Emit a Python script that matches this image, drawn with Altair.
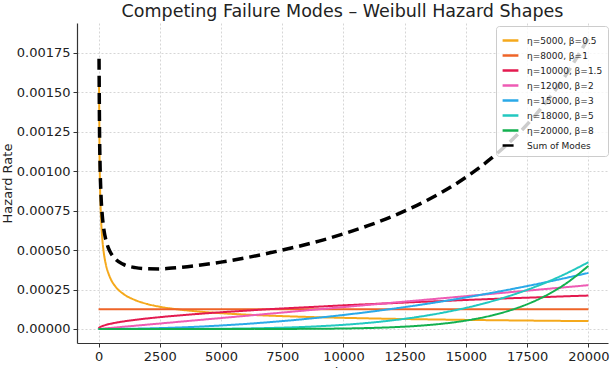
import altair as alt
import pandas as pd

# Time grid (hours) shared by every curve
T = [0, 20, 40, 60, 100, 150, 200, 300, 400, 500, 700, 1000, 1500, 2000, 2500,
     3000, 4000, 5000, 6000, 7000, 8000, 9000, 10000, 11000, 12000, 13000,
     14000, 15000, 16000, 17000, 18000, 19000, 20000]

# Hazard rate of each failure mode (None = undefined at t=0)
h_5000_05 = [None, 0.001581, 0.001118, 0.000913, 0.000707, 0.000577, 0.000500,
             0.000408, 0.000354, 0.000316, 0.000267, 0.000224, 0.000183,
             0.000158, 0.000141, 0.000129, 0.000112, 0.000100, 0.0000913,
             0.0000845, 0.0000791, 0.0000745, 0.0000707, 0.0000674, 0.0000645,
             0.0000620, 0.0000598, 0.0000577, 0.0000559, 0.0000542, 0.0000527,
             0.0000513, 0.0000500]
h_8000_1 = [0.000125] * len(T)
h_10000_15 = [0.0, 0.0000067, 0.0000095, 0.0000116, 0.0000150, 0.0000184,
              0.0000212, 0.0000260, 0.0000300, 0.0000335, 0.0000397, 0.0000474,
              0.0000581, 0.0000671, 0.0000750, 0.0000822, 0.0000949, 0.000106,
              0.000116, 0.000126, 0.000134, 0.000142, 0.000150, 0.000157,
              0.000164, 0.000171, 0.000177, 0.000184, 0.000190, 0.000196,
              0.000201, 0.000207, 0.000212]
h_12000_2 = [0.0, 0.0000003, 0.0000006, 0.0000008, 0.0000014, 0.0000021,
             0.0000028, 0.0000042, 0.0000056, 0.0000069, 0.0000097, 0.0000139,
             0.0000208, 0.0000278, 0.0000347, 0.0000417, 0.0000556, 0.0000694,
             0.0000833, 0.0000972, 0.0001111, 0.0001250, 0.0001389, 0.0001528,
             0.0001667, 0.0001806, 0.0001944, 0.0002083, 0.0002222, 0.0002361,
             0.0002500, 0.0002639, 0.0002778]
h_15000_3 = [0.0, 0.0, 0.0, 0.0, 0.0, 0.0, 0.0, 0.0000001, 0.0000001, 0.0000002,
             0.0000004, 0.0000009, 0.0000020, 0.0000036, 0.0000056, 0.0000080,
             0.0000142, 0.0000222, 0.0000320, 0.0000436, 0.0000569, 0.0000720,
             0.0000889, 0.0001076, 0.0001280, 0.0001502, 0.0001742, 0.0002000,
             0.0002276, 0.0002569, 0.0002880, 0.0003209, 0.0003556]
h_18000_5 = [0.0, 0.0, 0.0, 0.0, 0.0, 0.0, 0.0, 0.0, 0.0, 0.0, 0.0, 0.0,
             0.0, 0.0, 0.0000001, 0.0000002, 0.0000007, 0.0000017, 0.0000034,
             0.0000064, 0.0000108, 0.0000174, 0.0000265, 0.0000387, 0.0000549,
             0.0000756, 0.0001017, 0.0001340, 0.0001734, 0.0002210, 0.0002778,
             0.0003449, 0.0004234]
h_20000_8 = [0.0, 0.0, 0.0, 0.0, 0.0, 0.0, 0.0, 0.0, 0.0, 0.0, 0.0, 0.0,
             0.0, 0.0, 0.0, 0.0, 0.0, 0.0, 0.0000001, 0.0000003, 0.0000007,
             0.0000015, 0.0000031, 0.0000061, 0.0000112, 0.0000196, 0.0000329,
             0.0000534, 0.0000839, 0.0001282, 0.0001913, 0.0002793, 0.0004000]
h_sum = [None, 0.001713, 0.001253, 0.001050, 0.000848, 0.000723, 0.000649,
         0.000563, 0.000515, 0.000482, 0.000442, 0.000411, 0.000389, 0.000382,
         0.000381, 0.000386, 0.000402, 0.000424, 0.000451, 0.000483, 0.000518,
         0.000557, 0.000603, 0.000655, 0.000714, 0.000784, 0.000865, 0.000962,
         0.001078, 0.001217, 0.001386, 0.001592, 0.001844]

modes = ["η=5000, β=0.5", "η=8000, β=1", "η=10000, β=1.5", "η=12000, β=2",
         "η=15000, β=3", "η=18000, β=5", "η=20000, β=8"]
sum_label = "Sum of Modes"
mode_values = [h_5000_05, h_8000_1, h_10000_15, h_12000_2,
               h_15000_3, h_18000_5, h_20000_8]

colors = ["#F5A91C", "#EE6428", "#E31A4F", "#EE5BB4",
          "#2AA9E8", "#22C8C0", "#13B04F", "#000000"]
series_order = modes + [sum_label]

rows = []
for name, vals in zip(modes, mode_values):
    for t, v in zip(T, vals):
        if v is not None:
            rows.append({"t": t, "h": v, "series": name, "k": 0})
for t, v in zip(T, h_sum):
    if v is not None:
        rows.append({"t": t, "h": v, "series": sum_label, "k": 1})
df = pd.DataFrame(rows)

FONT = "DejaVu Sans"

x = alt.X("t:Q", title="Time",
          scale=alt.Scale(domain=[-880, 20800], nice=False, zero=False),
          axis=alt.Axis(values=list(range(0, 20001, 2500)), format="d"))
y = alt.Y("h:Q", title="Hazard Rate",
          scale=alt.Scale(domain=[-0.0000888, 0.00194], nice=False, zero=False),
          axis=alt.Axis(values=[i * 0.00025 for i in range(8)], format=".5f"))
legend = alt.Legend(title=None)
color = alt.Color("series:N", legend=legend,
                  scale=alt.Scale(domain=series_order, range=colors),
                  sort=series_order)
dash = alt.StrokeDash("series:N", legend=legend,
                      scale=alt.Scale(domain=series_order,
                                      range=[[1, 0]] * 7 + [[11, 6]]),
                      sort=series_order)

base = alt.Chart(df).encode(x=x, y=y, color=color, strokeDash=dash)

lines = base.transform_filter("datum.k == 0").mark_line(
    interpolate="monotone", strokeWidth=2)
total = base.transform_filter("datum.k == 1").mark_line(
    interpolate="monotone", strokeWidth=3.5)

chart = alt.layer(lines, total).properties(
    width=531, height=320,
    autosize=alt.AutoSizeParams(type="none"),
    padding={"left": 77, "top": 23, "right": 7, "bottom": 25},
    title=alt.Title("Competing Failure Modes – Weibull Hazard Shapes",
                    font=FONT, fontSize=17.5, fontWeight="normal",
                    color="#222222", anchor="middle", offset=5,
                    baseline="alphabetic", dy=16),
).configure_view(stroke=None).configure_axis(
    labelFont=FONT, labelFontSize=13, labelColor="#222222",
    titleFont=FONT, titleFontSize=13, titleFontWeight="normal",
    titleColor="#222222",
    domainColor="#333333", domainWidth=1.2,
    tickColor="#333333", tickSize=4, tickWidth=1,
    gridColor="#cccccc", gridDash=[2, 2], gridWidth=0.8,
    labelPadding=3,
).configure_axisX(titlePadding=3).configure_axisY(titlePadding=2).configure_legend(
    orient="none", legendX=419, legendY=3,
    labelFont=FONT, labelFontSize=9, labelColor="#222222",
    symbolType="stroke", symbolSize=250, symbolStrokeWidth=2.5,
    fillColor="rgba(255,255,255,0.8)", strokeColor="#cccccc",
    cornerRadius=3, padding=5, rowPadding=0, labelOffset=7,
)

chart.save("out.html", embed_options={"renderer": "svg", "actions": False})
